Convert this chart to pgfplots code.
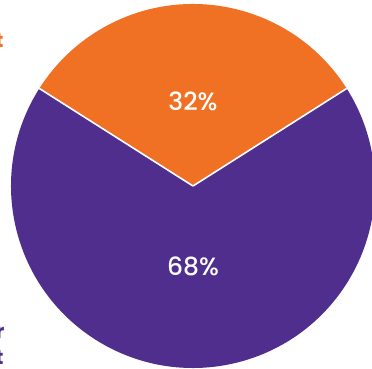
\documentclass[border=0pt]{standalone}
\usepackage{pgfplots}
\pgfplotsset{compat=1.18}
\usepackage{pgfplotstable}
\usepackage{fontspec}
\setmainfont{Poppins}
\newfontfamily\pmed{Poppins Medium}
\definecolor{pieorange}{HTML}{F07024}
\definecolor{piepurple}{HTML}{4F2E8E}
\pgfplotstableread{
share
32
68
}\piedata
\begin{document}
\begin{tikzpicture}
\pgfplotstablegetelem{0}{share}\of\piedata\edef\vA{\pgfplotsretval}
\pgfplotstablegetelem{1}{share}\of\piedata\edef\vB{\pgfplotsretval}
\pgfmathsetmacro\aStart{90-\vA*1.8}
\pgfmathsetmacro\aEnd{90+\vA*1.8}
\pgfmathsetmacro\bEnd{\aEnd+\vB*3.6}
\begin{axis}[
  scale only axis, width=372pt, height=369pt,
  xmin=0, xmax=372, ymin=0, ymax=369,
  hide axis, clip=true,
]
\addplot[draw=none] coordinates {(0,0) (372,369)};
\fill[pieorange] (axis cs:193,183) -- ++(\aStart:182pt) arc[start angle=\aStart, end angle=\aEnd, radius=182pt] -- cycle;
\fill[piepurple] (axis cs:193,183) -- ++(\aEnd:182pt) arc[start angle=\aEnd, end angle=\bEnd, radius=182pt] -- cycle;
\draw[white, line width=1.6pt] (axis cs:193,183) -- ++(\aStart:182pt);
\draw[white, line width=1.6pt] (axis cs:193,183) -- ++(\aEnd:182pt);
\node[white, font=\pmed\fontsize{25}{27}\selectfont] at (axis cs:193,268) {\vA\%};
\node[white, font=\pmed\fontsize{25}{27}\selectfont] at (axis cs:193,103) {\vB\%};
\node[pieorange, font=\bfseries\fontsize{20}{22}\selectfont, anchor=base east] at (axis cs:7,321) {t};
\node[piepurple, font=\bfseries\fontsize{20}{22}\selectfont, anchor=base east] at (axis cs:8,30) {r};
\node[piepurple, font=\bfseries\fontsize{20}{22}\selectfont, anchor=base east] at (axis cs:7,4) {t};
\end{axis}
\end{tikzpicture}
\end{document}
